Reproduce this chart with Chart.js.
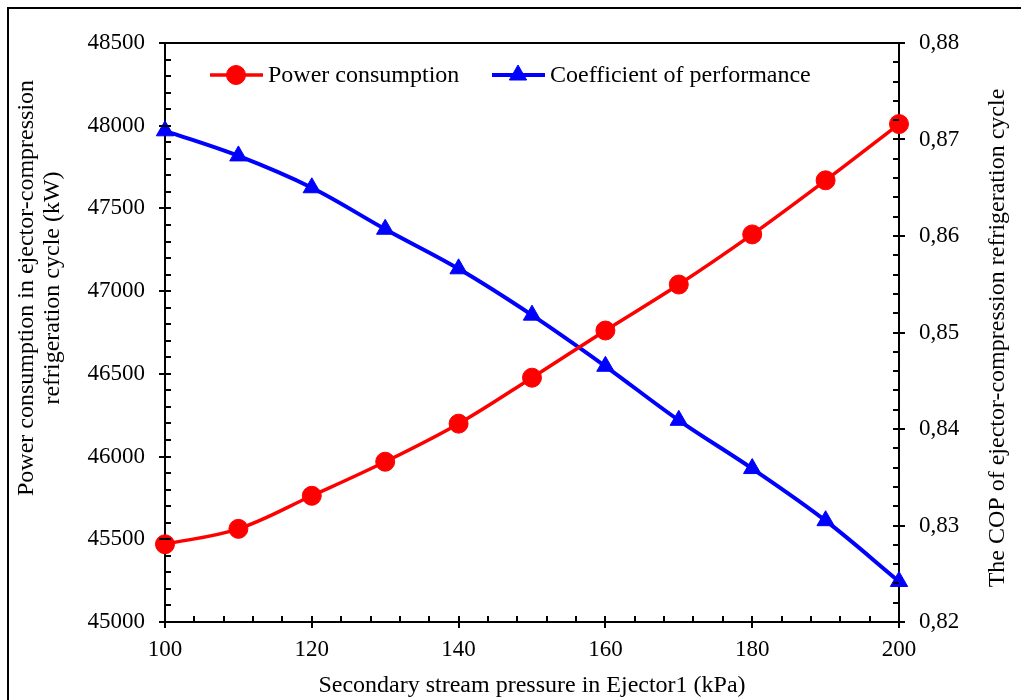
<!DOCTYPE html>
<html lang="en">
<head>
<meta charset="UTF-8" />
<title>ejector cycle</title>
<script src="https://cdn.jsdelivr.net/npm/chart.js"></script>
<style>
  body, html {
    margin: 0; padding: 0;
    background: white;
  }
  #wrap {
    width: 1021px;
    height: 700px;
    position: relative;
  }
</style>
</head>
<body>
<div id="wrap"><canvas id="cycleChart" width="1021" height="700"></canvas></div>

<script>
  // values
  const pressures = [100, 110, 120, 130, 140, 150, 160, 170, 180, 190, 200];
  const powerKW = [45470, 45563, 45763, 45969, 46199, 46477, 46762, 47040, 47343, 47670, 48010];
  const cop = [0.8709, 0.8683, 0.8650, 0.8607, 0.8566, 0.8518, 0.8465, 0.8409, 0.8359, 0.8305, 0.8242];
  const leftTitle = ['Power consumption in ejector-compression', 'refrigeration cycle (kW)'];
  const rightTitle = 'The COP of ejector-compression refrigeration cycle';

  const serif = "'Liberation Serif', 'Times New Roman', serif";
  const tickFont = { family: serif, size: 23 };
  const titleFont = { family: serif, size: 24, lineHeight: 1.15 };

  function rotatedText(ctx, text, x, y) {
    ctx.save();
    ctx.translate(x, y);
    ctx.rotate(-Math.PI / 2);
    ctx.font = '24px ' + serif;
    ctx.fillStyle = '#000';
    ctx.textAlign = 'center';
    ctx.textBaseline = 'middle';
    ctx.fillText(text, 0, 0);
    ctx.restore();
  }

  // outer frame, box top line, tick marks, y titles and in-plot legend
  const decorations = {
    id: 'decorations',
    beforeDraw(chart) {
      const ctx = chart.ctx;
      ctx.save();
      ctx.strokeStyle = '#000';
      ctx.lineWidth = 2;
      ctx.strokeRect(8, 8, 1040, 720);
      ctx.restore();
    },
    afterDraw(chart) {
      const ctx = chart.ctx;
      const area = chart.chartArea;
      const sx = chart.scales.x, sy = chart.scales.y, sr = chart.scales.y1;
      ctx.save();
      ctx.strokeStyle = '#000';
      ctx.lineWidth = 2;
      ctx.beginPath();
      ctx.moveTo(area.left - 1, area.top);
      ctx.lineTo(area.right + 1, area.top);
      ctx.stroke();

      ctx.beginPath();
      for (let v = 45000; v <= 48500; v += 100) {
        const y = Math.round(sy.getPixelForValue(v));
        const major = v % 500 === 0;
        ctx.moveTo(area.left - (major ? 6 : 0), y);
        ctx.lineTo(area.left + 6, y);
      }
      for (let i = 0; i <= 30; i++) {
        const v = 0.82 + i * 0.002;
        const y = Math.round(sr.getPixelForValue(v));
        const major = i % 5 === 0;
        ctx.moveTo(area.right - 6, y);
        ctx.lineTo(area.right + (major ? 6 : 0), y);
      }
      for (let v = 100; v <= 200; v += 4) {
        const x = Math.round(sx.getPixelForValue(v));
        const major = (v - 100) % 20 === 0;
        ctx.moveTo(x, area.bottom + (major ? 6 : 0));
        ctx.lineTo(x, area.bottom - 6);
      }
      ctx.stroke();

      // axis titles, reading bottom to top
      rotatedText(ctx, leftTitle[0], 27, 288);
      rotatedText(ctx, leftTitle[1], 53, 288);
      rotatedText(ctx, rightTitle, 998, 338);

      // legend
      const items = [
        { ds: chart.data.datasets[0], x: 210 },
        { ds: chart.data.datasets[1], x: 492 }
      ];
      const ly = 75;
      ctx.font = '24px ' + serif;
      ctx.textBaseline = 'middle';
      ctx.textAlign = 'left';
      items.forEach(it => {
        ctx.strokeStyle = it.ds.borderColor;
        ctx.fillStyle = it.ds.borderColor;
        ctx.lineWidth = it.ds.borderWidth;
        ctx.beginPath();
        ctx.moveTo(it.x, ly);
        ctx.lineTo(it.x + 53, ly);
        ctx.stroke();
        ctx.lineWidth = 1;
        Chart.helpers.drawPoint(ctx, {
          pointStyle: it.ds.pointStyle,
          radius: it.ds.pointRadius,
          rotation: 0,
          borderWidth: 1
        }, it.x + 26, ly);
        ctx.fillStyle = '#000';
        ctx.fillText(it.ds.label, it.x + 58, ly + 1);
      });
      ctx.restore();
    }
  };

  const ctx = document.getElementById('cycleChart').getContext('2d');
  new Chart(ctx, {
    type: 'line',
    data: {
      datasets: [
        {
          label: 'Power consumption',
          data: pressures.map((p, i) => ({ x: p, y: powerKW[i] })),
          yAxisID: 'y',
          borderColor: '#ff0000',
          backgroundColor: '#ff0000',
          borderWidth: 3.5,
          pointStyle: 'circle',
          pointRadius: 9.5,
          pointBorderWidth: 1,
          tension: 0.35,
          clip: false
        },
        {
          label: 'Coefficient of performance',
          data: pressures.map((p, i) => ({ x: p, y: cop[i] })),
          yAxisID: 'y1',
          borderColor: '#0000ff',
          backgroundColor: '#0000ff',
          borderWidth: 4,
          pointStyle: 'triangle',
          pointRadius: 10,
          pointBorderWidth: 1,
          tension: 0.35,
          clip: false
        }
      ]
    },
    options: {
      responsive: false,
      animation: false,
      layout: { padding: { top: 43, left: 0, right: 0, bottom: 0 } },
      plugins: {
        legend: { display: false },
        tooltip: { enabled: false }
      },
      scales: {
        x: {
          type: 'linear',
          position: 'bottom',
          min: 100, max: 200,
          afterFit: s => { s.height = 78; },
          ticks: { stepSize: 20, color: '#000', font: tickFont, padding: 14, maxRotation: 0 },
          grid: { display: true, drawOnChartArea: false, drawTicks: false },
          border: { color: '#000', width: 2 },
          title: {
            display: true,
            text: 'Secondary stream pressure in Ejector1 (kPa)',
            color: '#000', font: titleFont,
            padding: { top: 0, bottom: 0 }
          }
        },
        y: {
          position: 'left',
          min: 45000, max: 48500,
          afterFit: s => { s.width = 165; },
          ticks: {
            stepSize: 500, color: '#000', font: tickFont, padding: 20,
            callback: v => String(v)
          },
          grid: { display: true, drawOnChartArea: false, drawTicks: false },
          border: { color: '#000', width: 2 },
          title: { display: false }
        },
        y1: {
          position: 'right',
          min: 0.82, max: 0.88,
          afterFit: s => { s.width = 122; },
          ticks: {
            stepSize: 0.01, color: '#000', font: tickFont, padding: 20,
            callback: v => v.toFixed(2).replace('.', ',')
          },
          grid: { display: true, drawOnChartArea: false, drawTicks: false },
          border: { color: '#000', width: 2 },
          title: { display: false }
        }
      }
    },
    plugins: [decorations]
  });
</script>
</body>
</html>
